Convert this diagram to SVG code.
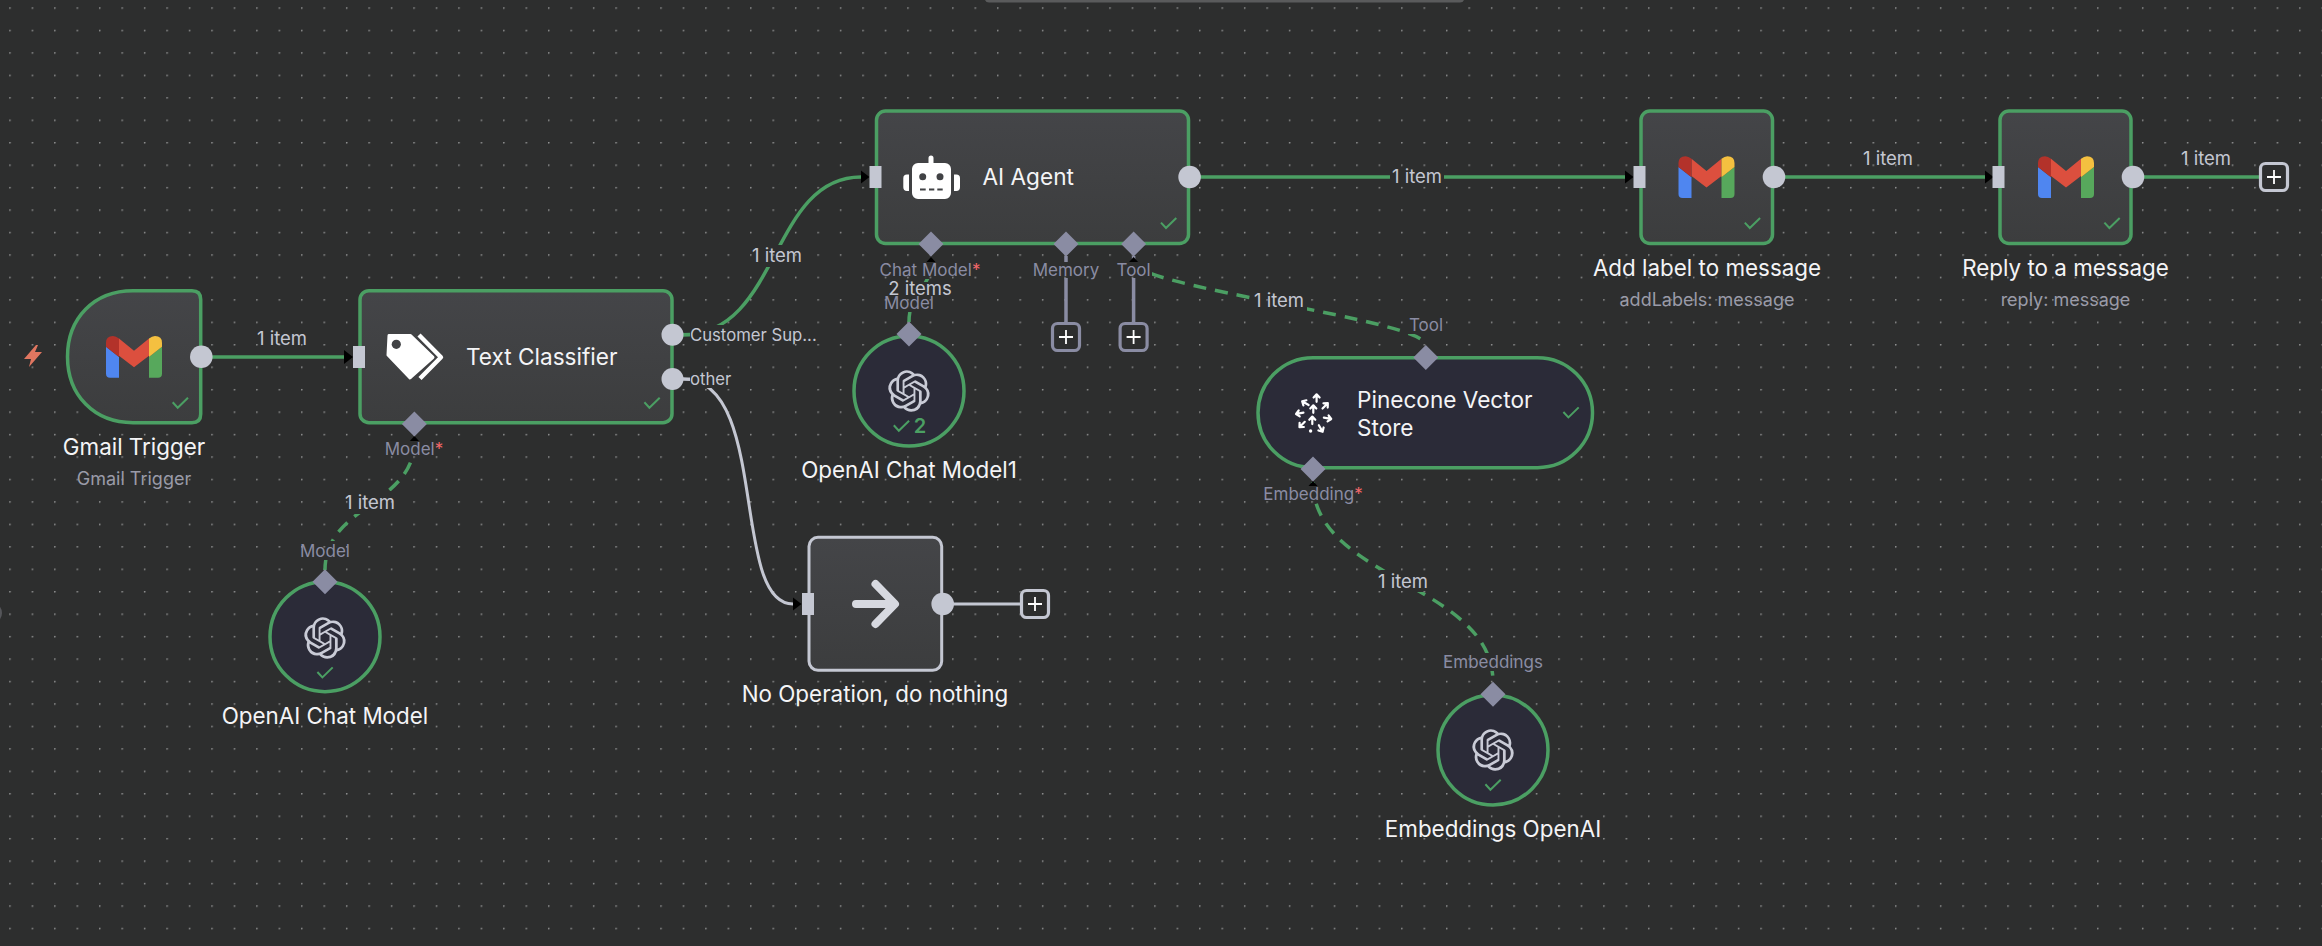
<svg xmlns="http://www.w3.org/2000/svg" width="2322" height="946" viewBox="0 0 2322 946">
<style>
text{font-family:"Inter","Noto Sans","Liberation Sans",sans-serif}
.box{fill:url(#nodeFill);stroke:#4b9f63;stroke-width:3.5}
.sub{fill:#2b2b38;stroke:#4b9f63;stroke-width:3.5}
.port{fill:#c4c7d2}
.dia{fill:#8a8ca3}
.t{font-size:22.4px;fill:#f4f4f6;text-anchor:middle}
.tin{font-size:22.6px;fill:#f4f4f6}
.s{font-size:18px;fill:#9a9ba8;text-anchor:middle}
.p{font-size:17px;fill:#8a8ca3;text-anchor:middle}
.star{fill:#f2686a}
.o{font-size:16.7px;fill:#c4c7d2}
.i{font-size:18.5px;fill:#c4c7d2;text-anchor:middle}
.bk{fill:url(#grid)}
.main{fill:none;stroke:#4b9f63;stroke-width:3.5}
.dash{fill:none;stroke:#4b9f63;stroke-width:3.5;stroke-dasharray:13 9}
.gr{fill:none;stroke:#c4c7d2;stroke-width:3}
.gp{fill:none;stroke:#8a8ca3;stroke-width:3.5}
.chk{fill:none;stroke:#4b9f63;stroke-width:2}
.pa{fill:none;stroke:#fff;stroke-width:2.2;stroke-linecap:round;stroke-linejoin:round}
</style>
<defs>
<pattern id="grid" patternUnits="userSpaceOnUse" x="9.2" y="7.3" width="22.45" height="22.45">
<rect width="22.45" height="22.45" fill="#2d2e2e"/>
<circle cx="0.8" cy="0.8" r="0.8" fill="#a8a9aa"/>
</pattern>
<linearGradient id="nodeFill" x1="0" y1="0" x2="0" y2="1"><stop offset="0" stop-color="#444548"/><stop offset="1" stop-color="#3c3d3e"/></linearGradient>
<marker id="arr" markerUnits="userSpaceOnUse" markerWidth="10" markerHeight="14" viewBox="0 0 10 14" refX="0.5" refY="7" orient="auto"><path d="M0 0 L9 7 L0 14Z" fill="#000"/></marker>
<path id="chk" class="chk" d="M-7.6 -0.7 L-2.6 4.7 L7.7 -5.3"/>
<polygon id="dm" class="dia" points="0,-12.5 12.5,0 0,12.5 -12.5,0"/>
<polygon id="tri" fill="#000" points="0,-5 4.5,0 -4.5,0"/>
<rect id="inp" class="port" x="-6" y="-11" width="12" height="22"/>
<circle id="outp" class="port" r="11.3"/>
<g id="gm">
<path fill="#4f86f0" d="M-28 -10 L-15 0.2 V20.9 H-24 Q-28 20.9 -28 16.9Z"/>
<path fill="#57a85c" d="M28 -10 L15 0.2 V20.9 H24 Q28 20.9 28 16.9Z"/>
<path fill="#dc4f3e" d="M-15 -18.3 L0 -6 L15 -18.3 V-1 L0 10.5 L-15 -1Z"/>
<path fill="#b3322a" d="M-28 -10 V-14 Q-28 -20.8 -21 -20.8 Q-18 -20.8 -15 -18.3 V0.2Z"/>
<path fill="#f4c040" d="M28 -10 V-14 Q28 -20.8 21 -20.8 Q18 -20.8 15 -18.3 V0.2Z"/>
</g>
<g id="ai"><path transform="scale(1.73) translate(-12 -12)" fill="#c9cbd6" d="M22.2819 9.8211a5.9847 5.9847 0 0 0-.5157-4.9108 6.0462 6.0462 0 0 0-6.5098-2.9A6.0651 6.0651 0 0 0 4.9807 4.1818a5.9847 5.9847 0 0 0-3.9977 2.9 6.0462 6.0462 0 0 0 .7427 7.0966 5.98 5.98 0 0 0 .511 4.9107 6.051 6.051 0 0 0 6.5146 2.9001A5.9847 5.9847 0 0 0 13.2599 24a6.0557 6.0557 0 0 0 5.7718-4.2058 5.9894 5.9894 0 0 0 3.9977-2.9001 6.0557 6.0557 0 0 0-.7475-7.0729zm-9.022 12.6081a4.4755 4.4755 0 0 1-2.8764-1.0408l.1419-.0804 4.7783-2.7582a.7948.7948 0 0 0 .3927-.6813v-6.7369l2.02 1.1686a.071.071 0 0 1 .038.052v5.5826a4.504 4.504 0 0 1-4.4945 4.4944zm-9.6607-4.1254a4.4708 4.4708 0 0 1-.5346-3.0137l.142.0852 4.783 2.7582a.7712.7712 0 0 0 .7806 0l5.8428-3.3685v2.3324a.0804.0804 0 0 1-.0332.0615L9.74 19.9502a4.4992 4.4992 0 0 1-6.1408-1.6464zM2.3408 7.8956a4.485 4.485 0 0 1 2.3655-1.9728V11.6a.7664.7664 0 0 0 .3879.6765l5.8144 3.3543-2.0201 1.1685a.0757.0757 0 0 1-.071 0l-4.8303-2.7865A4.504 4.504 0 0 1 2.3408 7.872zm16.5963 3.8558L13.1038 8.364 15.1192 7.2a.0757.0757 0 0 1 .071 0l4.8303 2.7913a4.4944 4.4944 0 0 1-.6765 8.1042v-5.6772a.79.79 0 0 0-.407-.667zm2.0107-3.0231l-.142-.0852-4.7735-2.7818a.7759.7759 0 0 0-.7854 0L9.409 9.2297V6.8974a.0662.0662 0 0 1 .0284-.0615l4.8303-2.7866a4.4992 4.4992 0 0 1 6.6802 4.66zM8.3065 12.863l-2.02-1.1638a.0804.0804 0 0 1-.038-.0567V6.0742a4.4992 4.4992 0 0 1 7.3757-3.4537l-.142.0805L8.704 5.459a.7948.7948 0 0 0-.3927.6813zm1.0976-2.3654l2.602-1.4998 2.6069 1.4998v2.9994l-2.5974 1.4997-2.6067-1.4997Z"/></g>
<g id="plusG"><rect x="-13.5" y="-13.5" width="27" height="27" rx="5" fill="#2d2e2e" stroke="#8a8ca3" stroke-width="3.2"/><path d="M-7 0H7M0 -7V7" stroke="#fff" stroke-width="1.8"/></g>
<g id="plusL"><rect x="-13.5" y="-13.5" width="27" height="27" rx="5" fill="#2d2e2e" stroke="#c4c7d2" stroke-width="3.2"/><path d="M-7 0H7M0 -7V7" stroke="#fff" stroke-width="1.8"/></g>
<path id="pa" class="pa" d="M0 3.5V-3.5M-3 -0.8L0 -4L3 -0.8"/>
</defs>

<rect width="2322" height="946" fill="url(#grid)"/>
<path d="M985 0H1464Q1463 2.5 1460 2.5H989Q986 2.5 985 0Z" fill="#5a5b5c"/>
<circle cx="-9" cy="613" r="11" fill="#55565a"/>

<g id="connectors">
<path class="main" marker-end="url(#arr)" d="M212 357H344.5"/>
<path class="main" d="M683 334.7H690"/>
<path class="main" marker-end="url(#arr)" d="M683 334.7C780 334.7 770 177 861 177"/>
<path class="gr" d="M683 379H692"/>
<path class="gr" marker-end="url(#arr)" d="M683 379C770 379 730 604 793 604"/>
<path class="main" marker-end="url(#arr)" d="M1200 177H1625"/>
<path class="main" marker-end="url(#arr)" d="M1785 177H1985"/>
<path class="main" d="M2144 177H2260"/>
<path class="gr" d="M953 604H1021"/>
<path class="gp" d="M1066 256V323"/>
<path class="gp" d="M1133.6 256V323"/>
<path class="dash" d="M414.4 441C414.4 505 325 505 325 570"/>
<path class="main" d="M931 262C931 290 909 290 909 322"/>
<path class="dash" d="M1133.6 262C1133.6 287 1426 320 1426 345"/>
<path class="dash" d="M1313 482C1313 580 1493 584 1493 682"/>
<use href="#tri" x="414.4" y="441"/>
<use href="#tri" x="931" y="262"/>
<use href="#tri" x="1133.6" y="262"/>
<use href="#tri" x="1313" y="486"/>
<rect class="bk" x="252" y="326" width="60" height="22"/>
<text class="i" x="282" y="345">1 item</text>
<rect class="bk" x="748" y="245" width="58" height="22"/>
<text class="i" x="777" y="262">1 item</text>
<rect class="bk" x="342" y="491" width="56" height="23"/>
<text class="i" x="370" y="509">1 item</text>
<rect class="bk" x="1252" y="290" width="55" height="22"/>
<text class="i" x="1279" y="307">1 item</text>
<rect class="bk" x="1376" y="570" width="54" height="22"/>
<text class="i" x="1403" y="588">1 item</text>
<rect class="bk" x="1390" y="166" width="54" height="22"/>
<text class="i" x="1417" y="183">1 item</text>
<text class="i" x="1888" y="165">1 item</text>
<text class="i" x="2206" y="165">1 item</text>
<rect class="bk" x="888" y="282" width="64" height="15"/>
<text class="i" x="920" y="295">2 items</text>
<use href="#plusG" x="1066" y="337"/>
<use href="#plusG" x="1133.6" y="337"/>
<use href="#plusL" x="1035" y="604"/>
<use href="#plusL" x="2274" y="177"/>
</g>

<g id="gmail-trigger">
<path class="box" d="M159 290.7H192Q200.7 290.7 200.7 299.4V414Q200.7 422.7 192 422.7H133C94 422.7 67.5 395 67.5 356.7C67.5 318 94 290.7 133 290.7Z"/>
<polygon fill="#e07660" points="36,345 24,359 31,359 29,367 42,352 35,352 38,345"/>
<use href="#gm" x="134" y="356.8"/>
<use href="#chk" x="180.3" y="403"/>
<use href="#outp" x="201.3" y="356.7"/>
<text class="t" x="134" y="455">Gmail Trigger</text>
<text class="s" x="134" y="484.5">Gmail Trigger</text>
</g>

<g id="text-classifier">
<rect class="box" x="360" y="290.7" width="312" height="132" rx="9"/>
<use href="#inp" x="359" y="357"/>
<path fill="#fff" stroke="#fff" stroke-width="3" stroke-linejoin="round" d="M389 335.5H410.5L433 357.3L410 378L388 355Z"/>
<circle cx="396.3" cy="344.3" r="4.6" fill="#414245"/>
<path fill="none" stroke="#fff" stroke-width="4.4" stroke-linejoin="round" d="M419 335L441 357.3L420 378.5"/>
<text class="tin" x="466" y="365">Text Classifier</text>
<use href="#chk" x="652" y="403"/>
<ellipse class="port" cx="672.5" cy="334.7" rx="11" ry="11"/>
<ellipse class="port" cx="672.5" cy="379" rx="11" ry="11"/>
<rect class="bk" x="690" y="325" width="128" height="20"/>
<text class="o" x="690" y="340.5">Customer Sup...</text>
<rect class="bk" x="690" y="370" width="42" height="18"/>
<text class="o" x="690" y="385">other</text>
<use href="#dm" x="414.4" y="424"/>
<rect class="bk" x="385" y="441" width="62" height="17"/>
<text class="p" x="414" y="455">Model<tspan class="star">*</tspan></text>
</g>

<g id="openai-chat-model">
<circle class="sub" cx="325" cy="636.7" r="55"/>
<use href="#dm" x="325" y="581.7"/>
<use href="#ai" x="325" y="638"/>
<use href="#chk" x="325" y="672.7"/>
<rect class="bk" x="298" y="541" width="54" height="19"/>
<text class="p" x="325" y="556.5">Model</text>
<text class="t" x="325" y="724">OpenAI Chat Model</text>
</g>

<g id="ai-agent">
<rect class="box" x="876.5" y="111" width="312" height="132.5" rx="9"/>
<use href="#inp" x="875.5" y="177"/>
<path fill="#fff" d="M928.5 163V158a2.5 2.5 0 0 1 5 0V163H945a6 6 0 0 1 6 6V193a6 6 0 0 1-6 6H918a6 6 0 0 1-6-6V169a6 6 0 0 1 6-6Z"/>
<circle cx="922.7" cy="176.7" r="3.5" fill="#414245"/><circle cx="940" cy="176.7" r="3.5" fill="#414245"/>
<path d="M920 189.5H925.7M929 189.5H934.3M937.3 189.5H942.7" stroke="#414245" stroke-width="2.2"/>
<path fill="#fff" d="M909 174.5V191H907a3.7 3.7 0 0 1-3.7-3.7V178.2a3.7 3.7 0 0 1 3.7-3.7Z"/>
<path fill="#fff" d="M954 174.5V191H956.3a3.7 3.7 0 0 0 3.7-3.7V178.2a3.7 3.7 0 0 0-3.7-3.7Z"/>
<text class="tin" x="982.5" y="185">AI Agent</text>
<use href="#chk" x="1168.6" y="223.3"/>
<use href="#outp" x="1189.6" y="177"/>
<use href="#dm" x="931" y="244"/>
<use href="#dm" x="1066" y="244"/>
<use href="#dm" x="1133.6" y="244"/>
<rect class="bk" x="880" y="262" width="106" height="17"/>
<text class="p" x="930" y="276">Chat Model<tspan class="star">*</tspan></text>
<rect class="bk" x="1032" y="262" width="68" height="16"/>
<text class="p" x="1066" y="276">Memory</text>
<rect class="bk" x="1116" y="262" width="36" height="16"/>
<text class="p" x="1133.6" y="276">Tool</text>
</g>

<g id="openai-chat-model1">
<circle class="sub" cx="909" cy="391" r="55"/>
<use href="#dm" x="909" y="334"/>
<use href="#ai" x="909" y="391"/>
<use href="#chk" x="901.4" y="426"/>
<text x="920" y="433" font-size="20" font-weight="600" fill="#4b9f63" text-anchor="middle">2</text>
<rect class="bk" x="884" y="297" width="50" height="15"/>
<text class="p" x="909" y="309">Model</text>
<text class="t" x="909" y="478">OpenAI Chat Model1</text>
</g>

<g id="add-label">
<rect class="box" x="1641" y="111" width="131.5" height="132.5" rx="9"/>
<use href="#inp" x="1639.5" y="177"/>
<use href="#gm" x="1706.5" y="177"/>
<use href="#chk" x="1752.4" y="223.3"/>
<use href="#outp" x="1774" y="177"/>
<text class="t" x="1707" y="276">Add label to message</text>
<text class="s" x="1707" y="305.5">addLabels: message</text>
</g>

<g id="reply">
<rect class="box" x="2000" y="111" width="131" height="132.5" rx="9"/>
<use href="#inp" x="1998.5" y="177"/>
<use href="#gm" x="2066" y="177"/>
<use href="#chk" x="2112" y="223.3"/>
<use href="#outp" x="2133" y="177"/>
<text class="t" x="2065.5" y="276">Reply to a message</text>
<text class="s" x="2065.5" y="305.5">reply: message</text>
</g>

<g id="pinecone">
<rect class="sub" x="1258" y="357.7" width="334.5" height="110" rx="55"/>
<use href="#dm" x="1425.8" y="357.5"/>
<use href="#dm" x="1313" y="469"/>
<g transform="translate(1313.3 413.3)">
<use href="#pa" transform="translate(3.3 -15)"/>
<use href="#pa" transform="translate(-7.7 -10) rotate(-60)"/>
<use href="#pa" transform="translate(11.7 -7.3) rotate(45)"/>
<use href="#pa" transform="translate(-13.3 0) rotate(-100)"/>
<use href="#pa" transform="translate(14 5) rotate(100)"/>
<use href="#pa" transform="translate(-11 11) rotate(-135)"/>
<use href="#pa" transform="translate(7.3 15) rotate(150)"/>
<use href="#pa" transform="translate(0 -4)"/>
<use href="#pa" transform="translate(-1 7.3)"/>
<circle cx="-2.7" cy="17.7" r="1.7" fill="#fff"/>
</g>
<text class="tin" x="1357" y="408">Pinecone Vector</text>
<text class="tin" x="1357" y="436">Store</text>
<use href="#chk" x="1571" y="412.7"/>
<rect class="bk" x="1408" y="318" width="36" height="16"/>
<text class="p" x="1426" y="331">Tool</text>
<rect class="bk" x="1264" y="486" width="98" height="17"/>
<text class="p" x="1313" y="500">Embedding<tspan class="star">*</tspan></text>
</g>

<g id="embeddings-openai">
<circle class="sub" cx="1493" cy="750" r="55"/>
<use href="#dm" x="1493" y="694.3"/>
<use href="#ai" x="1493" y="750"/>
<use href="#chk" x="1493" y="785"/>
<rect class="bk" x="1440" y="653" width="106" height="18"/>
<text class="p" x="1493" y="668">Embeddings</text>
<text class="t" x="1493" y="837">Embeddings OpenAI</text>
</g>

<g id="no-op">
<rect x="809" y="537.3" width="132.7" height="133" rx="9" fill="url(#nodeFill)" stroke="#c4c7d2" stroke-width="3"/>
<use href="#inp" x="808" y="604"/>
<path d="M856 604H894M875.5 584L895 604L875.5 624" fill="none" stroke="#d7d9e0" stroke-width="8" stroke-linecap="round" stroke-linejoin="round"/>
<use href="#outp" x="942.7" y="604"/>
<text class="t" x="875" y="702">No Operation, do nothing</text>
</g>
</svg>
